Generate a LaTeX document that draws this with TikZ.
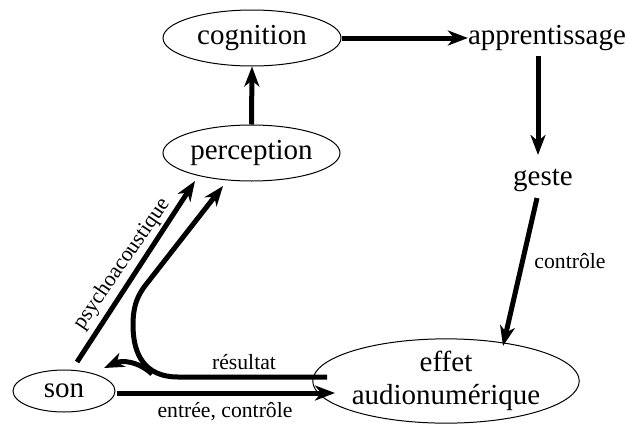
\documentclass[tikz,border=0pt]{standalone}
\usepackage{fontspec}
\setmainfont{Liberation Serif}
\newfontfamily\diagserif{Liberation Serif}
\usetikzlibrary{shapes.geometric,arrows.meta,calc}
\begin{document}
\begin{tikzpicture}[x=1pt,y=-1pt,
  big/.style={font=\diagserif\fontsize{29}{33}\selectfont},
  small/.style={font=\diagserif\fontsize{21.7}{24}\selectfont},
  ell/.style={ellipse,draw,line width=1pt,inner sep=0pt,big},
  txt/.style={inner sep=0pt,big},
  lab/.style={inner sep=0pt,small},
  conn/.style={line width=5pt,-{Stealth[length=20pt,width=15pt,inset=6pt]}}]
\useasboundingbox (0,0) rectangle (628,423);
\node[ell,minimum width=178pt,minimum height=56pt] (cog) at (252,38) {cognition};
\node[ell,minimum width=177pt,minimum height=56pt] (per) at (251.5,153) {perception};
\node[ell,minimum width=102pt,minimum height=42pt] (son) at (64,391) {son};
\node[ell,minimum width=224pt,minimum height=78pt,align=center] (eff) at (446,381) {effet\\audionumérique};
\node[txt,anchor=base] (app) at (547,44) {apprentissage};
\node[txt,anchor=base] (ges) at (543,185) {geste};
% coordinates for connector ends
\coordinate (ps1) at (77,362);
\coordinate (ps2) at (195,181);
\coordinate (rs1) at (327,377);
\coordinate (rs2) at (223,186);
\coordinate (br0) at (152,374);
\coordinate (br1) at (104,368);
\coordinate (ge1) at (537,198);
\coordinate (ge2) at (503,346);
\coordinate (ap1) at (538,56);
\coordinate (ap2) at (538,155);
\coordinate (en1) at (117,393);
\coordinate (en2) at (335,393);
% arrows
\draw[conn] (per.north) -- (cog.south);
\draw[conn] (cog.east) -- (app.west|-cog.east);
\draw[conn] (ap1) -- (ap2);
\draw[conn] (ge1) -- (ge2);
\node[lab,anchor=base] (lc) at (570,268) {contrôle};
\draw[conn] (en1) -- (en2);
\node[lab,anchor=base] (le) at (225,417) {entrée, contrôle};
\draw[conn] (ps1) -- (ps2);
\node[lab,rotate=55.6] (lp) at (122,264) {psychoacoustique};
\draw[conn] (rs1) -- (178,377) .. controls (145,377) and (133,355) .. (133,325)
   .. controls (133,302) and (140,292) .. (148,282) -- (rs2);
\draw[conn] (br0) .. controls (138,361) and (122,360) .. (br1);
\node[lab,anchor=base] (lr) at (244,369) {résultat};
\end{tikzpicture}
\end{document}
